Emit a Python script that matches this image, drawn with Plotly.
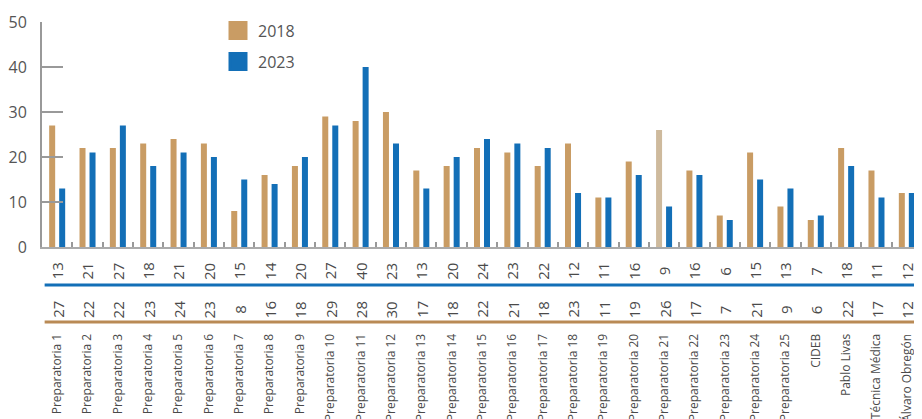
import plotly.graph_objects as go

categories = ["Preparatoria 1", "Preparatoria 2", "Preparatoria 3", "Preparatoria 4", "Preparatoria 5",
              "Preparatoria 6", "Preparatoria 7", "Preparatoria 8", "Preparatoria 9", "Preparatoria 10",
              "Preparatoria 11", "Preparatoria 12", "Preparatoria 13", "Preparatoria 14", "Preparatoria 15",
              "Preparatoria 16", "Preparatoria 17", "Preparatoria 18", "Preparatoria 19", "Preparatoria 20",
              "Preparatoria 21", "Preparatoria 22", "Preparatoria 23", "Preparatoria 24", "Preparatoria 25",
              "CIDEB", "Pablo Livas", "Técnica Médica", "Álvaro Obregón"]
values_2018 = [27, 22, 22, 23, 24, 23, 8, 16, 18, 29, 28, 30, 17, 18, 22, 21, 18, 23, 11, 19, 26, 17, 7, 21, 9, 6, 22, 17, 12]
values_2023 = [13, 21, 27, 18, 21, 20, 15, 14, 20, 27, 40, 23, 13, 20, 24, 23, 22, 12, 11, 16, 9, 16, 6, 15, 13, 7, 18, 11, 12]
y_ticks = [0, 10, 20, 30, 40, 50]

C2018 = "#C99C64"
C2018_LIGHT = "#CEBA9D"
C2023 = "#136FB7"
TXT = "#4a4a4a"
FONT = "Open Sans"

colors_2018 = [C2018_LIGHT if c == "Preparatoria 21" else C2018 for c in categories]

fig = go.Figure()
fig.add_trace(go.Bar(x=categories, y=values_2018, name="2018", marker=dict(color=colors_2018, line_width=0),
                     showlegend=False))
fig.add_trace(go.Bar(x=categories, y=values_2023, name="2023", marker=dict(color=C2023, line_width=0),
                     showlegend=False))
# legend entries
fig.add_trace(go.Scatter(x=[None], y=[None], mode="markers", name="2018", legendgroup="a",
                         marker=dict(symbol="square", size=16, color=C2018, line=dict(color=C2018, width=3))))
fig.add_trace(go.Scatter(x=[None], y=[None], mode="markers", name="2023", legendgroup="b",
                         marker=dict(symbol="square", size=16, color=C2023, line=dict(color=C2023, width=3))))

# table rows of values
for c, v in zip(categories, values_2023):
    fig.add_annotation(x=c, xref="x", y=-0.107, yref="paper", text=str(v), textangle=-90,
                       showarrow=False, font=dict(family=FONT, size=15, color=TXT),
                       xanchor="center", yanchor="middle")
for c, v in zip(categories, values_2018):
    fig.add_annotation(x=c, xref="x", y=-0.278, yref="paper", text=str(v), textangle=-90,
                       showarrow=False, font=dict(family=FONT, size=15, color=TXT),
                       xanchor="center", yanchor="middle")

fig.add_shape(type="line", xref="paper", yref="paper", x0=0.003, x1=1, y0=-0.169, y1=-0.169,
              line=dict(color=C2023, width=3))
fig.add_shape(type="line", xref="paper", yref="paper", x0=0.003, x1=1, y0=-0.333, y1=-0.333,
              line=dict(color="#B98A55", width=3))

fig.update_layout(
    width=914, height=411,
    margin=dict(l=34, r=0, t=14, b=172),
    paper_bgcolor="white", plot_bgcolor="white",
    barmode="group", bargap=0.34, bargroupgap=0.4,
    font=dict(family=FONT, color=TXT),
    showlegend=True,
    legend=dict(x=0.20, y=1.037, xanchor="left", yanchor="top", bgcolor="rgba(0,0,0,0)",
                font=dict(size=16, color="#555555"), itemsizing="trace", tracegroupgap=7),
    xaxis=dict(
        type="category", showgrid=False, zeroline=False,
        showline=True, linecolor="#aaaaaa", linewidth=2,
        ticks="inside", tickson="boundaries", ticklen=5, tickwidth=2, tickcolor="#999999",
        tickangle=-90, tickfont=dict(family=FONT, size=12, color=TXT),
        ticklabelstandoff=80, automargin=False,
    ),
    yaxis=dict(
        range=[0, 50], tickvals=y_ticks, showgrid=False, zeroline=False,
        showline=True, linecolor="#999999", linewidth=2,
        ticks="inside", ticklen=21, tickwidth=1.5, tickcolor="#999999",
        tickfont=dict(family=FONT, size=16, color="#555555"),
        ticklabelstandoff=10, automargin=False,
    ),
)

fig.write_html("out.html")
